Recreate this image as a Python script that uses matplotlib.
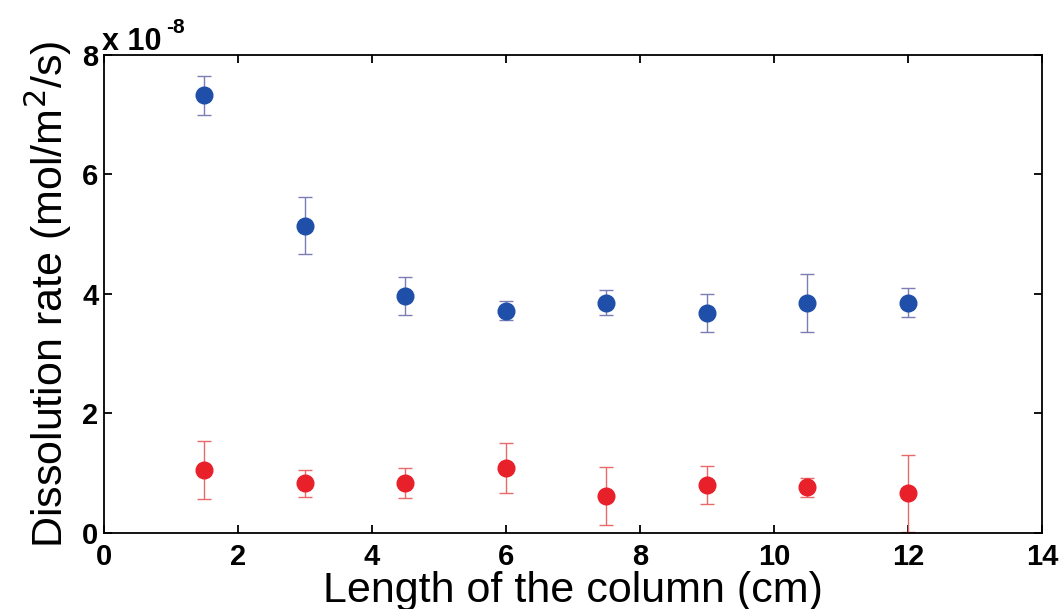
import matplotlib
matplotlib.use("Agg")
import matplotlib.pyplot as plt

plt.rcParams["font.family"] = ["Liberation Sans", "DejaVu Sans"]

# column length (cm)
length = [1.5, 3, 4.5, 6, 7.5, 9, 10.5, 12]

# dissolution rate, units of 1e-8 mol/m^2/s
rate_blue = [7.32, 5.14, 3.97, 3.72, 3.85, 3.68, 3.85, 3.85]
err_blue = [0.33, 0.48, 0.32, 0.16, 0.21, 0.32, 0.49, 0.24]

rate_red = [1.05, 0.83, 0.83, 1.08, 0.62, 0.80, 0.76, 0.66]
err_red = [0.48, 0.23, 0.25, 0.42, 0.48, 0.32, 0.16, 0.65]

fig = plt.figure(figsize=(10.61, 6.09), dpi=100)
ax = fig.add_axes([0.098, 0.125, 0.884, 0.785])

ax.errorbar(length, rate_blue, yerr=err_blue, fmt="o", color="#1f4fa8",
            ecolor="#7d7db5", elinewidth=1.0, capsize=5, capthick=1.0,
            markersize=12)
ax.errorbar(length, rate_red, yerr=err_red, fmt="o", color="#e8202a",
            ecolor="#ea6a6a", elinewidth=1.0, capsize=5, capthick=1.0,
            markersize=12)

ax.set_xlim(0, 14)
ax.set_ylim(0, 8)
ax.set_xticks(range(0, 15, 2))
ax.set_yticks(range(0, 9, 2))
ax.tick_params(direction="in", length=6, width=1.3, top=True, right=True,
               labelsize=21, pad=4)
ax.tick_params(axis="x", pad=7)
for lab in ax.get_xticklabels() + ax.get_yticklabels():
    lab.set_fontweight("bold")
for sp in ax.spines.values():
    sp.set_linewidth(1.3)

ax.set_xlabel("Length of the column (cm)", fontsize=31, labelpad=0)
ax.set_ylabel("Dissolution rate (mol/m$^2$/s)", fontsize=31, labelpad=6)

# exponent label, MATLAB style
ax.text(-0.002, 1.011, "x 10", transform=ax.transAxes,
        fontsize=22, fontweight="bold", ha="left", va="baseline")
ax.text(0.066, 1.046, "-8", transform=ax.transAxes,
        fontsize=15, fontweight="bold", ha="left", va="baseline")

fig.savefig("out.png", dpi=100)
